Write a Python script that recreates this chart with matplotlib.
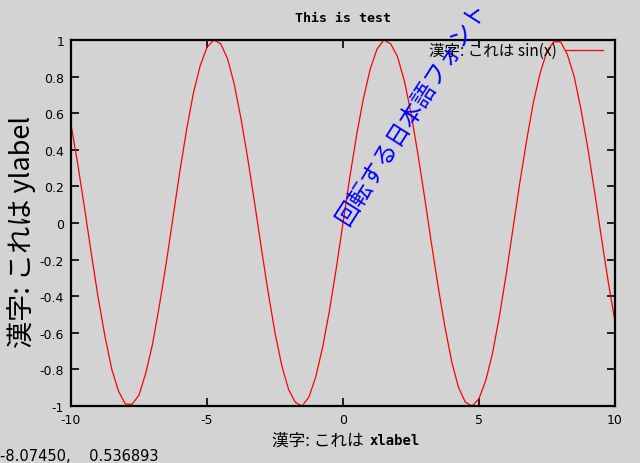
import matplotlib
matplotlib.use("Agg")
import matplotlib.pyplot as plt

x_vals = [-10 + 0.25 * i for i in range(81)]
y_pos = [0.0, 0.25, 0.48, 0.68, 0.84, 0.95, 1.0, 0.98, 0.91, 0.78, 0.60,
         0.38, 0.14, -0.11, -0.35, -0.57, -0.76, -0.90, -0.98, -1.0, -0.96,
         -0.86, -0.71, -0.51, -0.28, -0.03, 0.22, 0.45, 0.66, 0.82, 0.94,
         0.99, 0.99, 0.92, 0.80, 0.62, 0.41, 0.17, -0.08, -0.32, -0.54]
y_vals = [-v for v in y_pos[:0:-1]] + y_pos

x_ticks = [-10, -5, 0, 5, 10]
y_ticks = [-1, -0.8, -0.6, -0.4, -0.2, 0, 0.2, 0.4, 0.6, 0.8, 1]
y_tick_labels = ["-1", "-0.8", "-0.6", "-0.4", "-0.2", "0", "0.2", "0.4", "0.6", "0.8", "1"]

title = "This is test"
xlabel_jp = "漢字: これは"
xlabel_en = "xlabel"
ylabel = "漢字: これは ylabel"
legend_label = "漢字: これは sin(x)"
rot_label = "回転する日本語フォント"
status_text = "-8.07450,    0.536893"

fonts = ["Noto Sans CJK JP", "DejaVu Sans"]
plt.rcParams["font.family"] = fonts
bg = "#d3d3d3"

fig = plt.figure(figsize=(6.4, 4.64), dpi=100, facecolor=bg)
ax = fig.add_axes([71 / 640, 1 - 407 / 464, 544 / 640, 366 / 464], facecolor=bg)

ax.plot(x_vals, y_vals, color="red", lw=0.9, label=legend_label)
ax.set_xlim(-10, 10)
ax.set_ylim(-1, 1)
ax.set_xticks(x_ticks)
ax.set_xticklabels([str(t) for t in x_ticks], fontsize=9, family="DejaVu Sans")
ax.set_yticks(y_ticks)
ax.set_yticklabels(y_tick_labels, fontsize=9, family="DejaVu Sans")
ax.tick_params(direction="in", length=6, width=1.2, top=True, right=True, pad=5)
for s in ax.spines.values():
    s.set_linewidth(1.6)

ax.set_title(title, fontsize=9.5, fontweight="bold", family="DejaVu Sans Mono", pad=14)

# x label: japanese part + bold mono part
ly = 1 - 441 / 464
fig.text(364 / 640, ly, xlabel_jp, fontsize=12, ha="right", va="center")
fig.text(370 / 640, ly, xlabel_en, fontsize=10, fontweight="bold",
         family="DejaVu Sans Mono", ha="left", va="center")

ax.set_ylabel(ylabel, fontsize=19.5)
ax.yaxis.set_label_coords(-0.064, 0.478)

ax.text(0.3, -0.03, rot_label, rotation=57.5, color="blue", fontsize=17,
        ha="left", va="bottom", rotation_mode="anchor", clip_on=False)

ax.legend(loc="upper right", bbox_to_anchor=(0.995, 1.02), frameon=False,
          markerfirst=False, handlelength=2.4, handletextpad=0.6, fontsize=11.2,
          borderaxespad=0.2)

fig.text(0.0, 0.0, status_text, fontsize=10.5, family="DejaVu Sans", ha="left", va="bottom")

fig.savefig("out.png", dpi=100, facecolor=bg)
